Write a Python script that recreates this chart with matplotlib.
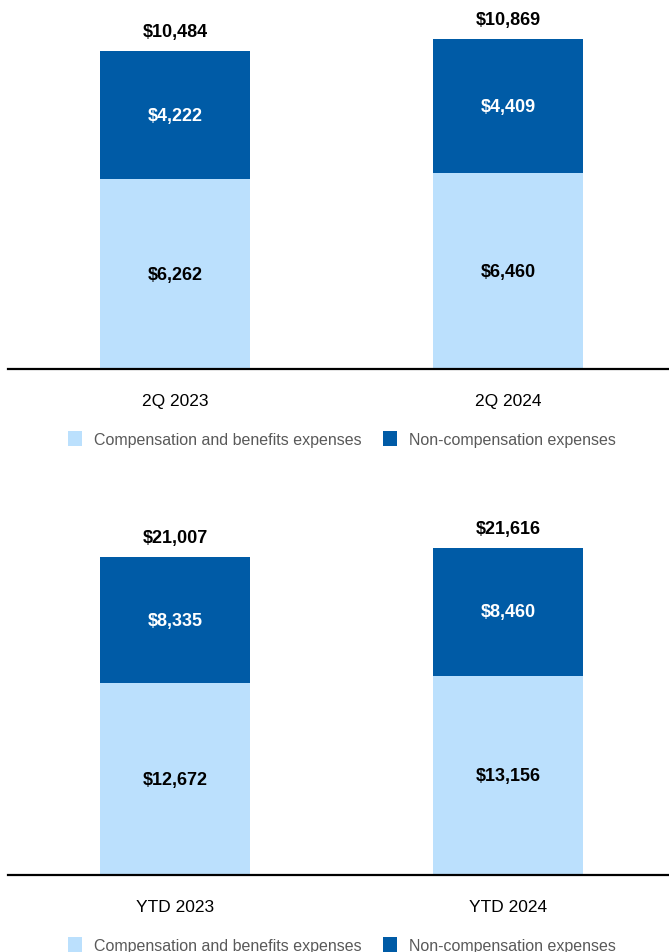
import matplotlib.pyplot as plt
from matplotlib.patches import Patch

plt.rcParams['font.family'] = ['Liberation Sans', 'DejaVu Sans']

quarter_labels = ['2Q 2023', '2Q 2024']
quarter_comp = [6262, 6460]
quarter_noncomp = [4222, 4409]

ytd_labels = ['YTD 2023', 'YTD 2024']
ytd_comp = [12672, 13156]
ytd_noncomp = [8335, 8460]

legend_names = ['Compensation and benefits expenses', 'Non-compensation expenses']
light_blue = '#BBE0FD'
dark_blue = '#005BA6'


def draw_panel(ax, labels, comp, noncomp, ymax):
    x = list(range(len(labels)))
    totals = [c + n for c, n in zip(comp, noncomp)]
    ax.bar(x, comp, width=0.45, color=light_blue, zorder=2)
    ax.bar(x, noncomp, width=0.45, bottom=comp, color=dark_blue, zorder=2)

    for i in x:
        ax.text(i, comp[i] / 2, f'${comp[i]:,}', ha='center', va='center',
                fontsize=13, fontweight='bold', color='black')
        ax.text(i, comp[i] + noncomp[i] / 2, f'${noncomp[i]:,}', ha='center', va='center',
                fontsize=13, fontweight='bold', color='white')
        ax.annotate(f'${totals[i]:,}', (i, totals[i]), xytext=(0, 8), textcoords='offset points',
                    ha='center', va='bottom', fontsize=13, fontweight='bold', color='black')

    ax.set_xlim(-0.5015, 1.4835)
    ax.set_ylim(0, ymax)
    ax.set_xticks(x)
    ax.set_xticklabels(labels, fontsize=12.5, color='black')
    ax.tick_params(axis='x', length=0, pad=17.5)
    ax.set_yticks([])
    for s in ['top', 'right', 'left']:
        ax.spines[s].set_visible(False)
    ax.spines['bottom'].set_linewidth(1.6)
    ax.spines['bottom'].set_color('black')
    ax.spines['bottom'].set_zorder(3)

    # legend sits below the category labels, as in the source slide
    handles = [Patch(facecolor=light_blue, edgecolor='none'),
               Patch(facecolor=dark_blue, edgecolor='none')]
    leg = ax.legend(handles, legend_names, loc='center', bbox_to_anchor=(0.505, -0.189),
                    ncol=2, frameon=False, fontsize=11.5, handlelength=0.85, handleheight=1.05,
                    handletextpad=0.75, columnspacing=1.35, labelcolor='#595959')
    return leg


fig = plt.figure(figsize=(6.69, 9.53), dpi=100)
W, H = 669, 953
ax1 = fig.add_axes([8 / W, (H - 370) / H, 661 / W, 370 / H])
ax2 = fig.add_axes([8 / W, (H - 876) / H, 661 / W, 370 / H])

draw_panel(ax1, quarter_labels, quarter_comp, quarter_noncomp, 12200)
draw_panel(ax2, ytd_labels, ytd_comp, ytd_noncomp, 24440)

fig.savefig('out.png', dpi=100)
